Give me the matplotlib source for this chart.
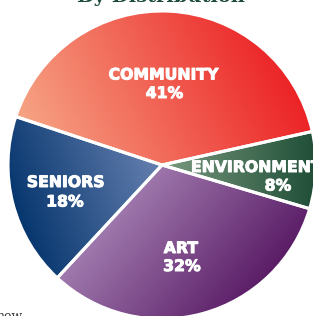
import numpy as np
import matplotlib
matplotlib.use("Agg")
import matplotlib.pyplot as plt
import matplotlib.patheffects as pe
from matplotlib.colors import to_rgb

labels = ["ENVIRONMENT", "COMMUNITY", "SENIORS", "ART"]
shares = [8, 41, 18, 32]
pct_labels = ["8%", "41%", "18%", "32%"]

# light -> dark gradient colours per slice, and gradient direction (angle in degrees, towards dark)
light = ["#7A9A80", "#F6A585", "#6680B0", "#A07AAE"]
dark = ["#1F4E36", "#EC2326", "#06366E", "#5A1C66"]
grad_dir = [0, 25, 200, -40]

W, H = 313, 316
fig = plt.figure(figsize=(W / 100, H / 100), dpi=100)
ax = fig.add_axes([0, 0, 1, 1])
ax.axis("off")

cx, cy, r = 162, 151, 154
wedges, _ = ax.pie(shares, center=(cx, cy), radius=r, startangle=-16.5,
                   counterclock=True, frame=False,
                   wedgeprops=dict(edgecolor="white", linewidth=2.2, facecolor="none"))
ax.set_xlim(0, W)
ax.set_ylim(0, H)
ax.set_aspect("equal")

xx, yy = np.meshgrid(np.linspace(0, W, 320), np.linspace(0, H, 320))
for w, lc, dc, ang in zip(wedges, light, dark, grad_dir):
    t1, t2 = np.radians(w.theta1), np.radians(w.theta2)
    d = np.array([np.cos(np.radians(ang)), np.sin(np.radians(ang))])
    ths = np.linspace(t1, t2, 50)
    px = np.concatenate([[cx], cx + r * np.cos(ths)])
    py = np.concatenate([[cy], cy + r * np.sin(ths)])
    proj = px * d[0] + py * d[1]
    v = (xx * d[0] + yy * d[1] - proj.min()) / (proj.max() - proj.min())
    v = np.clip(v, 0, 1)[..., None]
    img = (1 - v) * np.array(to_rgb(lc)) + v * np.array(to_rgb(dc))
    im = ax.imshow(img, extent=(0, W, 0, H), origin="lower", zorder=0.5,
                   interpolation="bilinear")
    im.set_clip_path(w)
    w.set_zorder(1)

# label positions in pixels from top-left: (name x, name y, pct x, pct y)
label_pos = [(257, 167.5, 278, 186), (164, 75, 164.5, 93.5),
             (66, 182.5, 65, 202), (181, 248.5, 182, 266.5)]
txt = dict(color="white", fontweight="bold", fontsize=11.3, ha="center",
           va="center", family="DejaVu Sans", zorder=3,
           path_effects=[pe.withStroke(linewidth=0.7, foreground="white")])
for name, pct, (nx, ny, qx, qy) in zip(labels, pct_labels, label_pos):
    ax.text(nx, H - ny, name, **txt)
    ax.text(qx, H - qy, pct, **txt)

ax.text(161, H - 2.5, "By Distribution", color="#1D4B3A", fontsize=14,
        fontweight="bold", family="DejaVu Serif", ha="center", va="baseline")
ax.text(-3, H - 320, "now", color="#333333", fontsize=9,
        family="DejaVu Serif", ha="left", va="baseline")

fig.savefig("out.png", dpi=100)
